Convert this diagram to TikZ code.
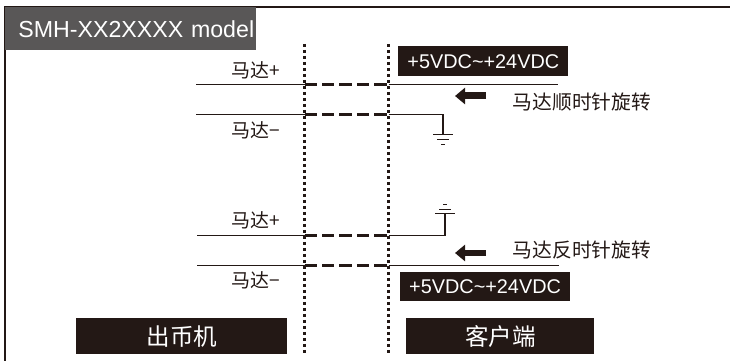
\documentclass[tikz,border=0pt]{standalone}
\usepackage{xcolor}
\usepackage{fontspec}
\setmainfont{Liberation Sans}
\newfontfamily\cjk{Noto Sans CJK SC}
\usetikzlibrary{arrows.meta}
\definecolor{inkblack}{HTML}{231815}
\definecolor{headgrey}{HTML}{595757}
\tikzset{
  blackbox/.style={fill=inkblack, text=white, inner sep=0pt, anchor=north west},
  wirelabel/.style={inner sep=0pt, text=inkblack, font=\cjk\fontsize{10.8}{12}\selectfont},
  wire/.style={inkblack, line width=0.028cm},
  linkdash/.style={inkblack, line width=0.05cm, dash pattern=on 0.25cm off 0.1cm},
  sideline/.style={inkblack, line width=0.06cm, dash pattern=on 0.07cm off 0.05cm},
  earth/.style={inkblack, line width=0.02cm},
  dirarrow/.style={inkblack, line width=0.14cm, -{Triangle[length=0.2cm,width=0.32cm]}},
}
\begin{document}
\begin{tikzpicture}[x=0.02cm, y=-0.02cm]
    \useasboundingbox (0, 0) rectangle (730, 361);

    % frame
    \coordinate (FrameBL) at (5, 361);
    \coordinate (FrameTL) at (5, 7);
    \coordinate (FrameTR) at (730, 7);
    \draw [inkblack, line width=0.03cm] (FrameBL) to (FrameTL) to (FrameTR);
    \node (header) [fill=headgrey, text=white, inner sep=0pt, anchor=north west, minimum height=0.86cm, text width=5.02cm, align=left, font=\fontsize{13.2}{15}\selectfont] at (5, 7) {\hspace*{0.26cm}SMH-XX2XXXX model};

    % separators
    \coordinate (L1) at (304.5, 44);
    \coordinate (L2) at (304.5, 354);
    \coordinate (R1) at (388.5, 44);
    \coordinate (R2) at (388.5, 354);
    \draw [sideline] (L1) to (L2);
    \draw [sideline] (R1) to (R2);

    % upper wires
    \coordinate (A1) at (196, 84.5);
    \coordinate (A1L) at (304.5, 84.5);
    \coordinate (A1R) at (388.5, 84.5);
    \coordinate (A1E) at (558, 84.5);
    \coordinate (A2) at (196, 114.5);
    \coordinate (A2L) at (304.5, 114.5);
    \coordinate (A2R) at (388.5, 114.5);
    \coordinate (A2C) at (443, 114.5);
    \coordinate (A2G) at (443, 135);

    \draw [wire] (A1) to (A1L);
    \draw [linkdash] (A1L) to (A1R);
    \draw [wire] (A1R) to (A1E);
    \draw [wire] (A2) to (A2L);
    \draw [linkdash] (A2L) to (A2R);
    \draw [wire] (A2R) to (A2C) to (A2G);
    \draw [earth] (A2G) ++(-10, 0) -- ++(20, 0);
    \draw [earth] (A2G) ++(-6, 5) -- ++(12, 0);
    \draw [earth] (A2G) ++(-2, 10) -- ++(4, 0);

    % lower wires
    \coordinate (B1) at (197, 235.5);
    \coordinate (B1L) at (304.5, 235.5);
    \coordinate (B1R) at (388.5, 235.5);
    \coordinate (B1C) at (445, 235.5);
    \coordinate (B1G) at (445, 214);
    \coordinate (B2) at (197, 265.5);
    \coordinate (B2L) at (304.5, 265.5);
    \coordinate (B2R) at (388.5, 265.5);
    \coordinate (B2E) at (559, 265.5);

    \draw [wire] (B1) to (B1L);
    \draw [linkdash] (B1L) to (B1R);
    \draw [wire] (B1R) to (B1C) to (B1G);
    \draw [earth] (B1G) ++(-10, 0) -- ++(20, 0);
    \draw [earth] (B1G) ++(-6, -4.5) -- ++(12, 0);
    \draw [earth] (B1G) ++(-2, -9) -- ++(4, 0);
    \draw [wire] (B2) to (B2L);
    \draw [linkdash] (B2L) to (B2R);
    \draw [wire] (B2R) to (B2E);

    % rotation arrows
    \coordinate (ArrowA1) at (486, 96);
    \coordinate (ArrowA2) at (455, 96);
    \coordinate (ArrowB1) at (486, 253);
    \coordinate (ArrowB2) at (455, 253);
    \draw [dirarrow] (ArrowA1) to (ArrowA2);
    \draw [dirarrow] (ArrowB1) to (ArrowB2);

    % wire labels
    \node (motorPlusA) [wirelabel] at (255.5, 70) {马达+};
    \node (motorMinusA) [wirelabel] at (255.5, 130) {马达−};
    \node (motorPlusB) [wirelabel] at (255.5, 220) {马达+};
    \node (motorMinusB) [wirelabel] at (255.5, 280) {马达−};
    \node (turnCW) [wirelabel, font=\cjk\fontsize{11.25}{13}\selectfont] at (582, 102) {马达顺时针旋转};
    \node (turnCCW) [wirelabel, font=\cjk\fontsize{11.25}{13}\selectfont] at (582, 250) {马达反时针旋转};

    % black boxes
    \node (supplyA) [blackbox, minimum width=3.4cm, minimum height=0.6cm, font=\fontsize{11.3}{13}\selectfont] at (398, 46) {+5VDC\char`\~+24VDC};
    \node (supplyB) [blackbox, minimum width=3.41cm, minimum height=0.58cm, font=\fontsize{11.3}{13}\selectfont] at (399.5, 272) {+5VDC\char`\~+24VDC};
    \node (machine) [blackbox, minimum width=4.22cm, minimum height=0.72cm, font=\cjk\fontsize{13.4}{15}\selectfont] at (76, 318) {出币机};
    \node (client) [blackbox, minimum width=3.76cm, minimum height=0.72cm, font=\cjk\fontsize{13.4}{15}\selectfont] at (406, 318) {客户端};
\end{tikzpicture}
\end{document}
